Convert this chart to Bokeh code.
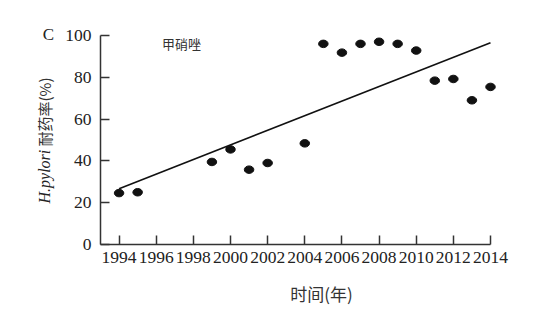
from bokeh.plotting import figure
from bokeh.models import Label, FixedTicker, ColumnDataSource
from bokeh.embed import file_html
from bokeh.resources import INLINE

years = [1994, 1995, 1999, 2000, 2001, 2002, 2004, 2005, 2006, 2007, 2008, 2009, 2010, 2011, 2012, 2013, 2014]
resistance = [24.6, 25.0, 39.5, 45.5, 35.8, 39.0, 48.4, 96.0, 91.8, 96.0, 97.0, 96.0, 92.8, 78.4, 79.2, 69.0, 75.4]
trend_years = [1994, 2014]
trend_values = [26.7, 96.5]
x_ticks = list(range(1994, 2015, 2))
y_ticks = [0, 20, 40, 60, 80, 100]

SERIF = "Liberation Serif"
CJK = "Noto Sans CJK SC"

W, H = 546, 309
# axis box in page pixels: x 1993..2014 -> 100..490, y 0..100 -> 244..35
X0, X1, PX0, PX1 = 1993, 2014, 100, 490
Y0, Y1, PY0, PY1 = 0, 100, 244, 35
sx = (PX1 - PX0) / (X1 - X0)
sy = (PY0 - PY1) / (Y1 - Y0)
x_range = (X0 - PX0 / sx, X0 + (W - PX0) / sx)
y_range = (Y0 - (H - PY0) / sy, Y0 + PY0 / sy)

p = figure(width=W, height=H, output_backend="svg", toolbar_location=None,
           x_range=x_range, y_range=y_range, min_border=0)
p.outline_line_color = None
p.xgrid.visible = False
p.ygrid.visible = False
p.background_fill_color = "white"
p.border_fill_color = "white"

for ax in (p.xaxis[0], p.yaxis[0]):
    ax.axis_line_color = "#333333"
    ax.axis_line_width = 1.5
    ax.major_tick_line_color = "#333333"
    ax.major_tick_line_width = 1.5
    ax.major_tick_in = 9
    ax.major_tick_out = 0
    ax.minor_tick_line_color = None
    ax.major_label_text_font = SERIF
    ax.major_label_text_font_size = "17.5px"
    ax.major_label_text_color = "#222222"

p.xaxis[0].ticker = FixedTicker(ticks=x_ticks)
p.yaxis[0].ticker = FixedTicker(ticks=y_ticks)
p.xaxis[0].fixed_location = Y0
p.yaxis[0].fixed_location = X0
p.xaxis[0].bounds = (X0, X1)
p.yaxis[0].bounds = (Y0, Y1)
p.xaxis[0].major_label_standoff = 7
p.yaxis[0].major_label_standoff = 9

p.line(trend_years, trend_values, line_color="#111111", line_width=1.6)
src = ColumnDataSource(dict(x=years, y=resistance))
p.ellipse(x="x", y="y", width=9.5, height=7.5, width_units="screen", height_units="screen",
          source=src, fill_color="#111111", line_color="#111111")

def lbl(px, py, text, font, size, color="#222222", style="normal", angle=0.0, align="center"):
    p.add_layout(Label(x=px, y=H - py, x_units="screen", y_units="screen", text=text,
                       text_font=font, text_font_size=size, text_color=color,
                       text_font_style=style, angle=angle,
                       text_align=align, text_baseline="middle"))

lbl(48, 34, "C", SERIF, "17px")
lbl(181, 43, "甲硝唑", CJK, "13px", color="#333333")
lbl(321, 293, "时间(年)", CJK, "17px", color="#333333")
lbl(44, 203, "H.pylori", SERIF, "16px", style="italic", angle=1.5708, align="left")
lbl(44, 146, "耐药率(%)", CJK, "15px", color="#333333", angle=1.5708, align="left")

open("out.html", "w").write(file_html(p, INLINE))
